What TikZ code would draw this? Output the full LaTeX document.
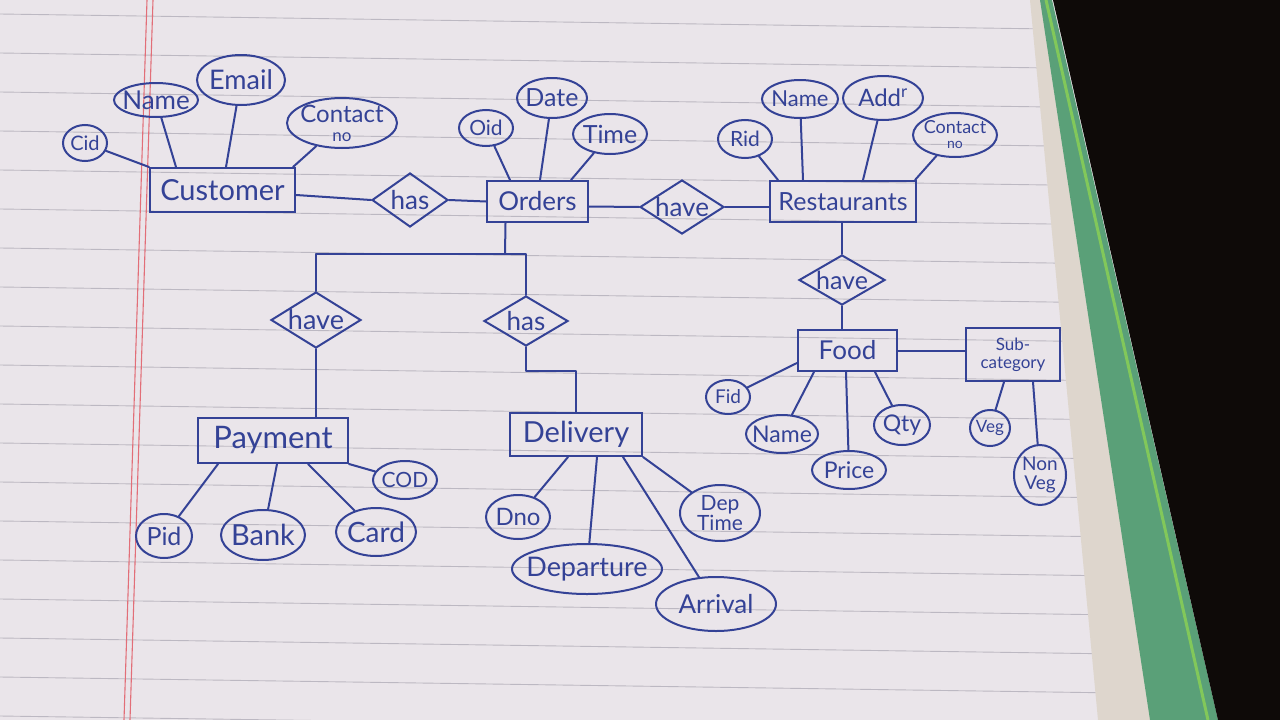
\documentclass[tikz,border=0pt]{standalone}
\usepackage{fontspec}
\setmainfont{Lato}
\usetikzlibrary{shapes.geometric}
\definecolor{ink}{RGB}{52,66,150}
\definecolor{paper}{RGB}{234,229,234}
\definecolor{rule}{RGB}{188,184,194}
\definecolor{margin}{RGB}{226,110,120}
\definecolor{cream}{RGB}{222,214,205}
\definecolor{cover}{RGB}{90,160,120}
\definecolor{coveredge}{RGB}{130,200,90}
\definecolor{night}{RGB}{14,10,8}
\tikzset{
  ent/.style 2 args={draw=ink, rectangle, line width=2pt, inner sep=0pt,
    minimum width=#1, minimum height=#2, text=ink, align=center},
  attr/.style 2 args={draw=ink, ellipse, line width=2pt, inner sep=0pt,
    minimum width=#1, minimum height=#2},
  rel/.style 2 args={draw=ink, diamond, line width=2pt, inner sep=0pt,
    minimum width=#1, minimum height=#2},
  lbl/.style={text=ink, align=center, inner sep=0pt, font=\fontsize{24}{24}\selectfont},
  link/.style={draw=ink, line width=2pt, line cap=round, line join=round},
  fs/.style={font=\fontsize{#1}{#1}\selectfont},
}
\begin{document}
\begin{tikzpicture}[x=1pt,y=-1pt]
\useasboundingbox (0,0) rectangle (1280,720);
% paper
\fill[paper] (0,0) rectangle (1280,720);
\foreach \k in {0,...,18} {
  \draw[rule, line width=0.9pt] (0,{14+39*\k}) -- (1120,{30+39*\k});
}
\draw[margin, line width=1.1pt] (147,0) -- (124,720);
\draw[margin, line width=1.1pt] (153,0) -- (130,720);
% notebook edge and background
\fill[cream] (1030,0) -- (1048,0) -- (1165,720) -- (1098,720) -- cycle;
\fill[cover] (1040,0) -- (1052,0) -- (1218,720) -- (1150,720) -- cycle;
\draw[coveredge, line width=3pt] (1046,0) -- (1208,720);
\fill[night] (1053,0) -- (1280,0) -- (1280,720) -- (1218,720) -- cycle;

% ---------- entities ----------
\node[ent={145}{44}, fs=29] (cust) at (222.5,190) {Customer};
\node[ent={101}{41}, fs=26] (orders) at (537.5,201.5) {Orders};
\node[ent={146}{41}, fs=25] (rest) at (843,201.5) {Restaurants};
\node[ent={150}{45}, fs=31] (pay) at (273,440.5) {Payment};
\node[ent={132}{43}, fs=29] (deliv) at (576,434.5) {Delivery};
\node[ent={99}{41}, fs=26] (food) at (847.5,350.5) {Food};
\node[ent={94}{53}, font=\fontsize{17}{18}\selectfont] (sub) at (1013,354.5) {Sub-\\category};

% ---------- relationships ----------
\node[rel={76}{54}] (has1) at (410,200) {};
\node[lbl, fs=26] (has1t) at (has1) {has};
\node[rel={84}{54}] (have1) at (682,207) {};
\node[lbl, fs=26] (have1t) at (have1) {have};
\node[rel={90}{56}] (have2) at (316,320) {};
\node[lbl, fs=27] (have2t) at (have2) {have};
\node[rel={84}{50}] (has2) at (526,321) {};
\node[lbl, fs=26] (has2t) at (has2) {has};
\node[rel={86}{50}] (have3) at (842,280) {};
\node[lbl, fs=25] (have3t) at (have3) {have};

% ---------- attributes ----------
\node[attr={44}{36}, label={[lbl, fs=20]center:Cid}] (cid) at (85,143) {};
\node[attr={84}{34}, label={[lbl, fs=26]center:Name}] (cname) at (156,100) {};
\node[attr={88}{50}, label={[lbl, fs=27]center:Email}] (email) at (241,80) {};
\node[attr={110}{50}, label={[lbl, font=\fontsize{24}{19}\selectfont]center:Contact\\{\fontsize{17}{17}\selectfont no}}] (ccon) at (342,123) {};

\node[attr={54}{36}, label={[lbl, fs=21]center:Oid}] (oid) at (486,128) {};
\node[attr={70}{40}, label={[lbl, fs=25]center:Date}] (date) at (552,98) {};
\node[attr={74}{40}, label={[lbl, fs=25]center:Time}] (time) at (610,134) {};

\node[attr={54}{38}, label={[lbl, fs=21]center:Rid}] (rid) at (745,139) {};
\node[attr={76}{38}, label={[lbl, fs=22]center:Name}] (rname) at (800,99) {};
\node[attr={80}{44}, label={[lbl, fs=24]center:Add\textsuperscript{r}}] (addr) at (883,98) {};
\node[attr={84}{44}, label={[lbl, font=\fontsize{18}{15}\selectfont]center:Contact\\{\fontsize{14}{14}\selectfont no}}] (rcon) at (955,135) {};

\node[attr={56}{44}, label={[lbl, fs=25]center:Pid}] (pid) at (164,536) {};
\node[attr={84}{50}, label={[lbl, fs=29]center:Bank}] (bank) at (263,535) {};
\node[attr={80}{48}, label={[lbl, fs=28]center:Card}] (card) at (376,532) {};
\node[attr={64}{38}, label={[lbl, fs=21]center:COD}] (cod) at (405,480) {};

\node[attr={64}{44}, label={[lbl, fs=24]center:Dno}] (dno) at (518,517) {};
\node[attr={150}{50}, label={[lbl, fs=27]center:Departure}] (dep) at (587,569) {};
\node[attr={120}{54}, label={[lbl, fs=26]center:Arrival}] (arr) at (716,604) {};
\node[attr={80}{56}, label={[lbl, font=\fontsize{21}{20}\selectfont]center:Dep\\Time}] (dtime) at (720,513) {};

\node[attr={44}{34}, label={[lbl, fs=19]center:Fid}] (fid) at (728,397) {};
\node[attr={72}{38}, label={[lbl, fs=23]center:Name}] (fname) at (782,434) {};
\node[attr={74}{38}, label={[lbl, fs=23]center:Price}] (price) at (849,470) {};
\node[attr={56}{40}, label={[lbl, fs=23]center:Qty}] (qty) at (902,425) {};
\node[attr={40}{36}, label={[lbl, fs=17]center:Veg}] (veg) at (990,428) {};
\node[attr={52}{60}, label={[lbl, font=\fontsize{19}{19}\selectfont]center:Non\\Veg}] (nveg) at (1040,475) {};

% ---------- connectors ----------
% customer
\draw[link] (cid) -- (cust.north west);
\draw[link] (cname) -- ([xshift=27pt]cust.north west);
\draw[link] (email) -- ([xshift=77pt]cust.north west);
\draw[link] (ccon) -- ([xshift=-3pt]cust.north east);
\draw[link] ([yshift=-5pt]cust.east) -- (has1.west);
\draw[link] (has1.east) -- (orders.west);
% orders
\draw[link] (oid) -- ([xshift=24pt]orders.north west);
\draw[link] (date) -- ([xshift=54pt]orders.north west);
\draw[link] (time) -- ([xshift=85pt]orders.north west);
\draw[link] ([yshift=-5pt]orders.east) -- (have1.west);
\draw[link] (have1.east) -- (rest.west |- have1.east);
% restaurants
\draw[link] (rid) -- ([xshift=9pt]rest.north west);
\draw[link] (rname) -- ([xshift=34pt]rest.north west);
\draw[link] (addr) -- ([xshift=94pt]rest.north west);
\draw[link] (rcon) -- ([xshift=-2pt]rest.north east);
% orders split
\coordinate (split) at (505,254);
\draw[link] ([xshift=-32pt]orders.south) -- (split);
\draw[link] (have2.north) -- (have2.north |- split) -- (has2.north |- split) -- (has2.north);
% payment
\draw[link] (have2.south) -- (have2.south |- pay.north);
\draw[link] (pid) -- ([xshift=21pt]pay.south west);
\draw[link] (bank) -- ([xshift=80pt]pay.south west);
\draw[link] (card) -- ([xshift=111pt]pay.south west);
\draw[link] (cod) -- (pay.south east);
% delivery
\draw[link] (has2.south) -- ++(0,24) -| (deliv.north);
\draw[link] (dno) -- ([xshift=59pt]deliv.south west);
\draw[link] (dep) -- ([xshift=88pt]deliv.south west);
\draw[link] (arr) -- ([xshift=114pt]deliv.south west);
\draw[link] (dtime) -- (deliv.south east);
% food
\draw[link] (have3.north) -- (have3.north |- rest.south);
\draw[link] (have3.south) -- (have3.south |- food.north);
\draw[link] (food.east) -- (sub.west |- food.east);
\draw[link] (fid) -- ([yshift=9pt]food.south west);
\draw[link] (fname) -- ([xshift=17pt]food.south west);
\draw[link] (price) -- ([xshift=49pt]food.south west);
\draw[link] (qty) -- ([xshift=78pt]food.south west);
\draw[link] (veg) -- ([xshift=39pt]sub.south west);
\draw[link] (nveg) -- ([xshift=68pt]sub.south west);
\end{tikzpicture}
\end{document}
